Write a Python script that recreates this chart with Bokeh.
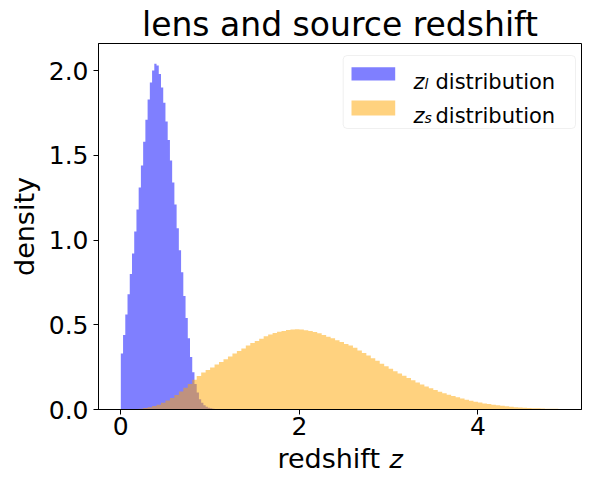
import numpy as np
from bokeh.plotting import figure
from bokeh.models import (Range1d, FixedTicker, PrintfTickFormatter, Label,
                          BoxAnnotation, ColumnDataSource)
from bokeh.embed import file_html
from bokeh.resources import INLINE

# ---------------- data ----------------
title_text = "lens and source redshift"
x_label = "redshift \U0001D467"
y_label = "density"
x_ticks = [0, 2, 4]
y_ticks = [0.0, 0.5, 1.0, 1.5, 2.0]

# lens redshift histogram (density), bins of width 0.025 starting at z = 0
lens_bin_width = 0.025
lens_density = [
    0.33, 0.44, 0.56, 0.68, 0.80, 0.92, 1.05, 1.18, 1.31, 1.44,
    1.58, 1.71, 1.83, 1.93, 2.00, 2.04, 2.03, 1.98, 1.90, 1.81,
    1.70, 1.59, 1.47, 1.34, 1.21, 1.07, 0.94, 0.81, 0.67, 0.54,
    0.42, 0.31, 0.22, 0.15, 0.10, 0.06, 0.04, 0.025, 0.016, 0.010,
    0.007, 0.005, 0.003, 0.002, 0.001, 0.001, 0.0005,
]

# source redshift histogram (density), bins of width 0.05 starting at z = 0
source_bin_width = 0.05
source_density = [
    0.000, 0.000, 0.001, 0.003, 0.005, 0.009, 0.014, 0.020, 0.028, 0.040,
    0.053, 0.068, 0.086, 0.106, 0.128, 0.150, 0.175, 0.198, 0.218, 0.233,
    0.248, 0.265, 0.280, 0.296, 0.313, 0.330, 0.345, 0.360, 0.377, 0.392,
    0.405, 0.418, 0.432, 0.443, 0.452, 0.459, 0.464, 0.469, 0.472, 0.473,
    0.472, 0.468, 0.463, 0.457, 0.450, 0.440, 0.430, 0.420, 0.409, 0.398,
    0.387, 0.378, 0.364, 0.348, 0.333, 0.318, 0.302, 0.287, 0.270, 0.255,
    0.240, 0.226, 0.213, 0.199, 0.186, 0.173, 0.160, 0.148, 0.136, 0.125,
    0.115, 0.105, 0.096, 0.087, 0.080, 0.072, 0.065, 0.058, 0.052, 0.046,
    0.041, 0.036, 0.032, 0.028, 0.025, 0.022, 0.019, 0.016, 0.014, 0.012,
    0.010, 0.009, 0.008, 0.007, 0.006, 0.005, 0.004, 0.004, 0.003, 0.003,
]

legend_entries = [("l", "distribution"), ("s", "distribution")]

# ---------------- styling ----------------
FONT = "DejaVu Sans"
LENS_COLOR = "blue"
SOURCE_COLOR = "orange"


def step_source(width, values):
    edges = np.arange(len(values) + 1) * width
    top = list(values) + [0.0]
    return ColumnDataSource(dict(x=edges, y1=np.zeros(len(edges)), y2=top))


p = figure(width=590, height=482,
           x_range=Range1d(-0.25, 5.16), y_range=Range1d(0, 2.16),
           output_backend="svg", toolbar_location=None,
           min_border_left=98, min_border_right=9,
           min_border_top=43, min_border_bottom=73)

p.background_fill_color = "white"
p.border_fill_color = "white"
p.outline_line_color = "black"
p.outline_line_width = 1
p.outline_line_alpha = 1
p.grid.visible = False

p.title.text = title_text
p.title.text_font = FONT
p.title.text_font_size = "33px"
p.title.text_font_style = "normal"
p.title.text_color = "black"
p.title.align = "center"
p.title.standoff = 0

p.varea_step(x="x", y1="y1", y2="y2", step_mode="after",
             source=step_source(lens_bin_width, lens_density),
             fill_color=LENS_COLOR, fill_alpha=0.5)
p.varea_step(x="x", y1="y1", y2="y2", step_mode="after",
             source=step_source(source_bin_width, source_density),
             fill_color=SOURCE_COLOR, fill_alpha=0.5)

p.xaxis.ticker = FixedTicker(ticks=x_ticks)
p.yaxis.ticker = FixedTicker(ticks=y_ticks)
p.yaxis.formatter = PrintfTickFormatter(format="%.1f")
p.xaxis.axis_label = x_label
p.yaxis.axis_label = y_label

for ax in (p.xaxis[0], p.yaxis[0]):
    ax.major_label_text_font = FONT
    ax.major_label_text_font_size = "25px"
    ax.major_label_text_color = "black"
    ax.axis_line_color = "black"
    ax.axis_line_width = 1
    ax.major_tick_line_color = "black"
    ax.major_tick_line_width = 1
    ax.major_tick_out = 5
    ax.major_tick_in = 0
    ax.minor_tick_line_color = None
    ax.axis_label_text_font = FONT
    ax.axis_label_text_font_size = "27px"
    ax.axis_label_text_font_style = "normal"
    ax.axis_label_text_color = "black"
p.xaxis.major_label_standoff = 2
p.xaxis.axis_label_standoff = 5
p.yaxis.major_label_standoff = 5
p.yaxis.axis_label_standoff = 6

# full frame border (matplotlib spines)
p.add_layout(BoxAnnotation(fill_alpha=0, line_color="black", line_width=1))

# legend (drawn by hand to allow the italic z with subscript)
p.add_layout(BoxAnnotation(left=244.7, right=477, bottom=281, top=354,
                           left_units="screen", right_units="screen",
                           bottom_units="screen", top_units="screen",
                           fill_color="white", fill_alpha=0.8,
                           line_color="#cccccc", line_width=1,
                           border_radius=4))
swatch_rows = [(329, 342.3, LENS_COLOR), (294, 309, SOURCE_COLOR)]
baselines = [328, 294]
for (b, t, c), base, (sub, word) in zip(swatch_rows, baselines, legend_entries):
    p.add_layout(BoxAnnotation(left=253, right=296.7, bottom=b, top=t,
                               left_units="screen", right_units="screen",
                               bottom_units="screen", top_units="screen",
                               fill_color=c, fill_alpha=0.5,
                               line_color=None))
    p.add_layout(Label(x=315, y=base, x_units="screen", y_units="screen",
                       text="z", text_font=FONT, text_font_size="21px",
                       text_font_style="italic", text_baseline="alphabetic",
                       text_color="black"))
    p.add_layout(Label(x=326, y=base - 2, x_units="screen", y_units="screen",
                       text=sub, text_font=FONT, text_font_size="14px",
                       text_font_style="italic", text_baseline="alphabetic",
                       text_color="black"))
    p.add_layout(Label(x=337, y=base, x_units="screen", y_units="screen",
                       text=word, text_font=FONT, text_font_size="21px",
                       text_baseline="alphabetic", text_color="black"))

open("out.html", "w").write(file_html(p, INLINE))
